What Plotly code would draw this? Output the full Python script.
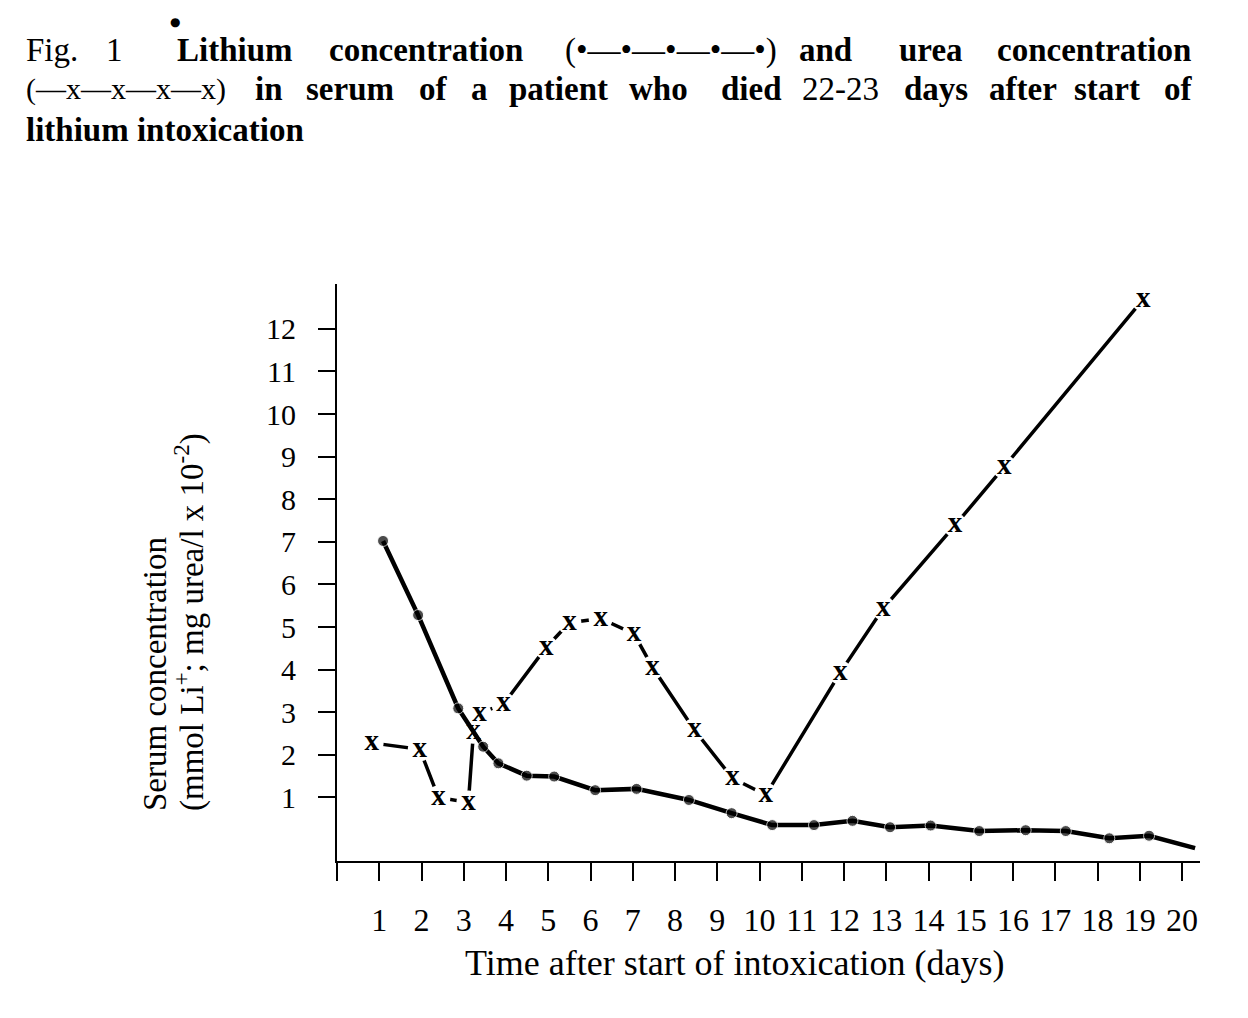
import plotly.graph_objects as go

# ---------------- data ----------------
lithium_day = [1.09, 1.92, 2.87, 3.46, 3.82, 4.49, 5.14, 6.11, 7.09, 8.33, 9.34,
               10.30, 11.29, 12.20, 13.09, 14.05, 15.20, 16.30, 17.25, 18.28, 19.22, 20.31]
lithium_val = [7.02, 5.28, 3.09, 2.19, 1.80, 1.51, 1.49, 1.17, 1.20, 0.94, 0.63,
               0.35, 0.35, 0.45, 0.30, 0.34, 0.21, 0.23, 0.21, 0.04, 0.10, -0.19]

urea_day = [0.82, 1.96, 2.40, 3.11, 3.23, 3.37, 3.94, 4.95, 5.50, 6.24, 7.03,
            7.47, 8.46, 9.36, 10.15, 11.91, 12.93, 14.63, 15.79, 19.08]
urea_val = [2.28, 2.13, 1.00, 0.88, 2.54, 2.97, 3.19, 4.52, 5.10, 5.20, 4.84,
            4.05, 2.58, 1.45, 1.06, 3.93, 5.44, 7.39, 8.76, 12.69]

x_tickvals = list(range(0, 21))
x_ticktext = [""] + [str(d) for d in range(1, 21)]
y_tickvals = list(range(1, 13))
y_ticktext = [str(v) for v in y_tickvals]

x_title = "Time after start of intoxication (days)"
y_title_1 = "Serum concentration"
y_title_2 = "(mmol Li<sup>+</sup>; mg urea/l x 10<sup>-2</sup>)"

caption_lines = [
    [("Fig.", False), ("1", False), ("Lithium", True), ("concentration", True),
     ("(•—•—•—•—•)", False), ("and", True), ("urea", True), ("concentration", True)],
    [("(—x—x—x—x)", False), ("in", True), ("serum", True), ("of", True), ("a", True),
     ("patient", True), ("who", True), ("died", True), ("22-23", False), ("days", True),
     ("after", True), ("start", True), ("of", True)],
    [("lithium intoxication", True)],
]

# ---------------- layout geometry (screen pixels) ----------------
OFF = 8                      # page body margin
W, H = 1248 - OFF, 1018 - OFF
L, R, T, B = 337, 1200, 284, 861   # plot area on screen
PW, PH = R - L, B - T
FONT = "Liberation Serif"


def px(xs):
    return (xs - L) / PW


def py(ys):
    return (B - ys) / PH


caption_x = [
    [24, 104, 175, 327, 563, 797, 897, 995],
    [24, 253, 304, 417, 469, 507, 627, 719, 800, 902, 987, 1072, 1162],
    [24],
]
caption_y = [50, 89, 130]

fig = go.Figure()

# urea: line with white gaps around serif "x" glyphs
fig.add_trace(go.Scatter(
    x=urea_day, y=urea_val,
    mode="lines+markers+text",
    line=dict(color="black", width=3.5),
    marker=dict(color="white", size=24, line=dict(width=0)),
    text=["<b>x</b>"] * len(urea_day),
    textposition="middle center",
    textfont=dict(family=FONT, size=29, color="black"),
    showlegend=False, hoverinfo="skip",
))

# lithium: solid line with dots
li_sizes = [11] * (len(lithium_day) - 1) + [0]
fig.add_trace(go.Scatter(
    x=lithium_day, y=lithium_val,
    mode="lines+markers",
    line=dict(color="black", width=4.5),
    marker=dict(color="black", size=li_sizes),
    showlegend=False, hoverinfo="skip",
))

annotations = []
for words, xs, yc in zip(caption_lines, caption_x, caption_y):
    for (w, bold), xp in zip(words, xs):
        size = 30 if w.startswith("(—x") else 33
        annotations.append(dict(
            x=px(xp), y=py(yc), xref="paper", yref="paper",
            xanchor="left", yanchor="middle", showarrow=False,
            text=f"<b>{w}</b>" if bold else w,
            font=dict(family=FONT, size=size, color="black"),
        ))

# small dot above caption
annotations.append(dict(x=px(175), y=py(22), xref="paper", yref="paper",
                        xanchor="center", yanchor="middle", showarrow=False,
                        text="●", font=dict(family="DejaVu Sans", size=12, color="black")))

annotations.append(dict(x=px(735), y=py(963), xref="paper", yref="paper",
                        xanchor="center", yanchor="middle", showarrow=False,
                        text=x_title, font=dict(family=FONT, size=36, color="black")))
annotations.append(dict(x=px(155), y=py(674), xref="paper", yref="paper",
                        xanchor="center", yanchor="middle", showarrow=False,
                        textangle=-90, text=y_title_1,
                        font=dict(family=FONT, size=33, color="black")))
annotations.append(dict(x=px(189), y=py(622), xref="paper", yref="paper",
                        xanchor="center", yanchor="middle", showarrow=False,
                        textangle=-90, text=y_title_2,
                        font=dict(family=FONT, size=33, color="black")))

fig.update_layout(
    template="none",
    width=W, height=H,
    margin=dict(l=L - OFF, r=W - (R - OFF), t=T - OFF, b=H - (B - OFF), pad=0, autoexpand=False),
    paper_bgcolor="white", plot_bgcolor="white",
    font=dict(family=FONT, color="black"),
    annotations=annotations,
    xaxis=dict(range=[0, (R - L) / 42.25], tickvals=x_tickvals, ticktext=x_ticktext,
               showgrid=False, zeroline=False, showline=True, linecolor="black", linewidth=2,
               ticks="outside", ticklen=18, tickwidth=2, tickcolor="black",
               tickfont=dict(family=FONT, size=32, color="black"),
               ticklabelstandoff=12, automargin=False),
    yaxis=dict(range=[(840 - B) / 42.6, (840 - T) / 42.6], tickvals=y_tickvals, ticktext=y_ticktext,
               showgrid=False, zeroline=False, showline=True, linecolor="black", linewidth=2,
               ticks="outside", ticklen=17, tickwidth=2, tickcolor="black",
               tickfont=dict(family=FONT, size=30, color="black"),
               ticklabelstandoff=16, automargin=False),
)

fig.write_html("out.html")
